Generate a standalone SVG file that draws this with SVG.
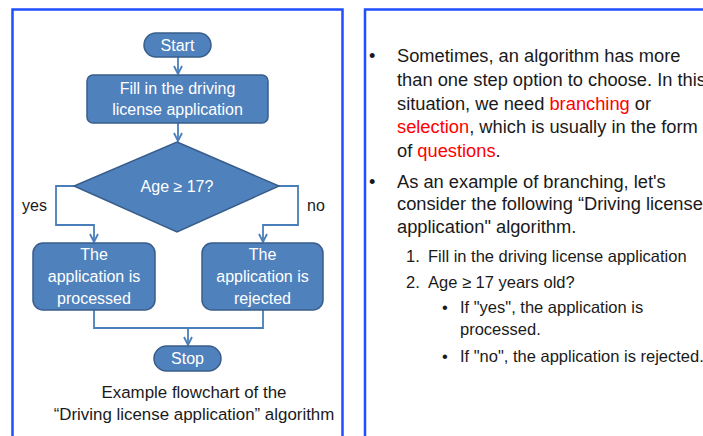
<svg xmlns="http://www.w3.org/2000/svg" width="703" height="436" viewBox="0 0 703 436">
  <style>
    .panel { fill: #ffffff; stroke: #1f4fff; stroke-width: 2.5; }
    .node { fill: #4f81bd; stroke: #385d8a; stroke-width: 1.5; }
    .ntext { font-family: "Liberation Sans", Arial, sans-serif; font-size: 16px; fill: #ffffff; text-anchor: middle; }
    .edge { fill: none; stroke: #4a7ebb; stroke-width: 1.8; }
    .lbl { font-family: "Liberation Sans", Arial, sans-serif; font-size: 16px; fill: #1a1a1a; }
    .cap { font-family: "Liberation Sans", Arial, sans-serif; font-size: 16.9px; fill: #1a1a1a; text-anchor: middle; }
    .body { font-family: "Liberation Sans", Arial, sans-serif; font-size: 18.3px; fill: #1a1a1a; }
    .sub { font-family: "Liberation Sans", Arial, sans-serif; font-size: 16.5px; fill: #1a1a1a; }
    .red { fill: #ff0000; }
  </style>
  <defs>
    <marker id="chev" viewBox="0 0 10 10" refX="9" refY="5" markerWidth="10" markerHeight="10" markerUnits="userSpaceOnUse" orient="auto">
      <path d="M1,1 L9,5 L1,9" fill="none" stroke="#4a7ebb" stroke-width="1.8"/>
    </marker>
  </defs>

  <rect width="703" height="436" fill="#ffffff"/>

  <!-- two framed panels, open at the bottom edge -->
  <path class="panel" d="M12.5,440 V9.5 H342.5 V440"/>
  <path class="panel" d="M365,440 V9.5 H710"/>

  <!-- connectors -->
  <g id="connectors">
    <path class="edge" d="M178,57 V74" marker-end="url(#chev)"/>
    <path class="edge" d="M178,123 V141" marker-end="url(#chev)"/>
    <path class="edge" d="M74,186 H56 V225 H94 V242" marker-end="url(#chev)"/>
    <path class="edge" d="M279,186 H298 V225 H263 V242" marker-end="url(#chev)"/>
    <path class="edge" d="M94,310 V328 H263 V310"/>
    <path class="edge" d="M188,328 V345" marker-end="url(#chev)"/>
  </g>

  <g id="start">
    <rect class="node" x="144" y="33" width="67" height="24" rx="12"/>
    <text class="ntext" x="177.5" y="51">Start</text>
  </g>

  <g id="fill-in">
    <rect class="node" x="87" y="75" width="181" height="48" rx="6"/>
    <text class="ntext" x="177.5" y="94">Fill in the driving</text>
    <text class="ntext" x="177.5" y="115">license application</text>
  </g>

  <g id="age-check">
    <polygon class="node" points="177,142 279,186 177,232 74,186"/>
    <text class="ntext" x="177" y="192">Age ≥ 17?</text>
  </g>

  <text class="lbl" x="22" y="211">yes</text>
  <text class="lbl" x="307" y="211">no</text>

  <g id="processed">
    <rect class="node" x="33" y="243" width="122" height="67" rx="10"/>
    <text class="ntext" x="94" y="260">The</text>
    <text class="ntext" x="94" y="282">application is</text>
    <text class="ntext" x="94" y="304">processed</text>
  </g>

  <g id="rejected">
    <rect class="node" x="202" y="243" width="121" height="67" rx="10"/>
    <text class="ntext" x="262.5" y="260">The</text>
    <text class="ntext" x="262.5" y="282">application is</text>
    <text class="ntext" x="262.5" y="304">rejected</text>
  </g>

  <g id="stop">
    <rect class="node" x="154" y="346" width="67" height="25" rx="12.5"/>
    <text class="ntext" x="187.5" y="364">Stop</text>
  </g>

  <text class="cap" x="194" y="398">Example flowchart of the</text>
  <text class="cap" x="194" y="420">“Driving license application” algorithm</text>

  <!-- explanatory text -->
  <g id="notes">
    <text class="body" x="369" y="62">•</text>
    <text class="body" x="397" y="62">Sometimes, an algorithm has more</text>
    <text class="body" x="397" y="86">than one step option to choose. In this</text>
    <text class="body" x="397" y="110">situation, we need <tspan class="red">branching</tspan> or</text>
    <text class="body" x="397" y="133"><tspan class="red">selection</tspan>, which is usually in the form</text>
    <text class="body" x="397" y="157">of <tspan class="red">questions</tspan>.</text>

    <text class="body" x="369" y="188">•</text>
    <text class="body" x="397" y="188">As an example of branching, let's</text>
    <text class="body" x="397" y="210">consider the following “Driving license</text>
    <text class="body" x="397" y="233">application" algorithm.</text>

    <text class="sub" x="406" y="262">1.</text>
    <text class="sub" x="428" y="262">Fill in the driving license application</text>
    <text class="sub" x="406" y="288">2.</text>
    <text class="sub" x="428" y="288">Age ≥ 17 years old?</text>

    <text class="sub" x="442" y="313">•</text>
    <text class="sub" x="460" y="313">If "yes", the application is</text>
    <text class="sub" x="460" y="335">processed.</text>
    <text class="sub" x="442" y="362">•</text>
    <text class="sub" x="460" y="362">If "no", the application is rejected.</text>
  </g>
</svg>
